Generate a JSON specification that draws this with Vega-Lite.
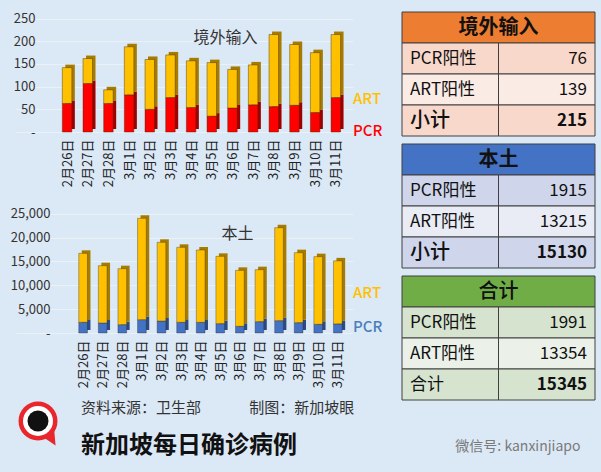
{
  "$schema": "https://vega.github.io/schema/vega-lite/v6.json",
  "background": "#dbe8f5",
  "padding": {"left": 10, "top": 11, "right": 8, "bottom": 17},
  "config": {"view": {"stroke": null}, "font": "Noto Sans CJK SC", "axis": {"labelFont": "Noto Sans CJK SC", "minExtent": 0}, "legend": {"labelFont": "Noto Sans CJK SC"}},
  "datasets": {
    "imported": [
      {"date": "2022/02/26", "type": "PCR", "n": 63}, {"date": "2022/02/26", "type": "ART", "n": 79},
      {"date": "2022/02/27", "type": "PCR", "n": 107}, {"date": "2022/02/27", "type": "ART", "n": 55},
      {"date": "2022/02/28", "type": "PCR", "n": 63}, {"date": "2022/02/28", "type": "ART", "n": 30},
      {"date": "2022/03/01", "type": "PCR", "n": 82}, {"date": "2022/03/01", "type": "ART", "n": 106},
      {"date": "2022/03/02", "type": "PCR", "n": 50}, {"date": "2022/03/02", "type": "ART", "n": 110},
      {"date": "2022/03/03", "type": "PCR", "n": 76}, {"date": "2022/03/03", "type": "ART", "n": 94},
      {"date": "2022/03/04", "type": "PCR", "n": 54}, {"date": "2022/03/04", "type": "ART", "n": 103},
      {"date": "2022/03/05", "type": "PCR", "n": 35}, {"date": "2022/03/05", "type": "ART", "n": 118},
      {"date": "2022/03/06", "type": "PCR", "n": 53}, {"date": "2022/03/06", "type": "ART", "n": 85},
      {"date": "2022/03/07", "type": "PCR", "n": 60}, {"date": "2022/03/07", "type": "ART", "n": 88},
      {"date": "2022/03/08", "type": "PCR", "n": 56}, {"date": "2022/03/08", "type": "ART", "n": 159},
      {"date": "2022/03/09", "type": "PCR", "n": 59}, {"date": "2022/03/09", "type": "ART", "n": 134},
      {"date": "2022/03/10", "type": "PCR", "n": 43}, {"date": "2022/03/10", "type": "ART", "n": 132},
      {"date": "2022/03/11", "type": "PCR", "n": 76}, {"date": "2022/03/11", "type": "ART", "n": 139}
    ],
    "local": [
      {"date": "2022/02/26", "type": "PCR", "n": 2240}, {"date": "2022/02/26", "type": "ART", "n": 14470},
      {"date": "2022/02/27", "type": "PCR", "n": 2100}, {"date": "2022/02/27", "type": "ART", "n": 12020},
      {"date": "2022/02/28", "type": "PCR", "n": 1750}, {"date": "2022/02/28", "type": "ART", "n": 11740},
      {"date": "2022/03/01", "type": "PCR", "n": 2800}, {"date": "2022/03/01", "type": "ART", "n": 21250},
      {"date": "2022/03/02", "type": "PCR", "n": 2520}, {"date": "2022/03/02", "type": "ART", "n": 16500},
      {"date": "2022/03/03", "type": "PCR", "n": 2240}, {"date": "2022/03/03", "type": "ART", "n": 15730},
      {"date": "2022/03/04", "type": "PCR", "n": 2240}, {"date": "2022/03/04", "type": "ART", "n": 15170},
      {"date": "2022/03/05", "type": "PCR", "n": 1960}, {"date": "2022/03/05", "type": "ART", "n": 14120},
      {"date": "2022/03/06", "type": "PCR", "n": 1400}, {"date": "2022/03/06", "type": "ART", "n": 11740},
      {"date": "2022/03/07", "type": "PCR", "n": 2380}, {"date": "2022/03/07", "type": "ART", "n": 10900},
      {"date": "2022/03/08", "type": "PCR", "n": 2590}, {"date": "2022/03/08", "type": "ART", "n": 19500},
      {"date": "2022/03/09", "type": "PCR", "n": 2170}, {"date": "2022/03/09", "type": "ART", "n": 14680},
      {"date": "2022/03/10", "type": "PCR", "n": 1820}, {"date": "2022/03/10", "type": "ART", "n": 14190},
      {"date": "2022/03/11", "type": "PCR", "n": 1915}, {"date": "2022/03/11", "type": "ART", "n": 13215}
    ],
    "tables": [
      {"tbl": "境外输入", "row": "标题"},
      {"tbl": "境外输入", "row": "PCR阳性", "value": 76},
      {"tbl": "境外输入", "row": "ART阳性", "value": 139},
      {"tbl": "境外输入", "row": "小计", "value": 215},
      {"tbl": "本土", "row": "标题"},
      {"tbl": "本土", "row": "PCR阳性", "value": 1915},
      {"tbl": "本土", "row": "ART阳性", "value": 13215},
      {"tbl": "本土", "row": "小计", "value": 15130},
      {"tbl": "合计", "row": "标题"},
      {"tbl": "合计", "row": "PCR阳性", "value": 1991},
      {"tbl": "合计", "row": "ART阳性", "value": 13354},
      {"tbl": "合计", "row": "合计", "value": 15345}
    ]
  },
  "title": {"text": "微信号: kanxinjiapo", "orient": "bottom", "anchor": "end", "frame": "bounds", "offset": -18, "dx": -15, "fontSize": 14, "fontWeight": "normal", "color": "#7a7a7a", "font": "Noto Sans CJK SC"},
  "spacing": 0,
  "resolve": {"scale": {"color": "independent"}, "legend": {"color": "independent"}},
  "vconcat": [
    {
      "spacing": 18,
      "resolve": {"scale": {"color": "independent"}, "legend": {"color": "independent"}},
      "hconcat": [
        {
          "spacing": 19,
          "resolve": {"scale": {"x": "independent", "y": "independent", "color": "independent"}, "legend": {"color": "independent"}},
          "vconcat": [
            {
              "width": 337, "height": 120,
              "data": {"name": "imported"},
              "title": {"text": "境外输入", "orient": "top", "anchor": "middle", "frame": "group", "dx": 41, "offset": -34, "fontSize": 16, "fontWeight": "normal", "color": "#333333", "font": "Noto Sans CJK SC"},
              "encoding": {
                "x": {"field": "date", "type": "temporal",
                  "scale": {"domain": [{"year": 2022, "month": 2, "date": 23, "hours": 18, "minutes": 29}, {"year": 2022, "month": 3, "date": 11, "hours": 14, "minutes": 10}], "nice": false},
                  "axis": {"title": null, "format": "%-m月%-d日", "values": [
                    {"year": 2022, "month": 2, "date": 26}, {"year": 2022, "month": 2, "date": 27}, {"year": 2022, "month": 2, "date": 28},
                    {"year": 2022, "month": 3, "date": 1}, {"year": 2022, "month": 3, "date": 2}, {"year": 2022, "month": 3, "date": 3},
                    {"year": 2022, "month": 3, "date": 4}, {"year": 2022, "month": 3, "date": 5}, {"year": 2022, "month": 3, "date": 6},
                    {"year": 2022, "month": 3, "date": 7}, {"year": 2022, "month": 3, "date": 8}, {"year": 2022, "month": 3, "date": 9},
                    {"year": 2022, "month": 3, "date": 10}, {"year": 2022, "month": 3, "date": 11}],
                    "labelAngle": -90, "labelFontSize": 13, "labelColor": "#222222", "ticks": false, "tickSize": 0, "domain": false, "labelPadding": 7, "grid": false, "labelOverlap": false, "labelBound": false, "labelFlush": false}},
                "y": {"field": "n", "type": "quantitative", "stack": "zero",
                  "scale": {"domain": [0, 264.7], "nice": false},
                  "axis": {"title": null, "values": [0, 50, 100, 150, 200, 250], "labelExpr": "datum.value == 0 ? '-' : datum.label", "labelPadding": -19, "labelAlign": "right", "ticks": false, "tickSize": 0, "domain": false, "grid": true, "gridColor": "#eef3f8", "gridOpacity": 0.8, "labelFontSize": 13, "labelColor": "#333333"}},
                "order": {"field": "type", "sort": "descending"}
              },
              "layer": [
                {
                  "mark": {"type": "bar", "width": 9.5, "xOffset": 3, "yOffset": -3, "y2Offset": -3},
                  "encoding": {
                    "detail": {"field": "type"},
                    "fill": {"condition": {"test": "datum.type == 'ART'", "value": "#A67C00"}, "value": "#9E0000"}
                  }
                },
                {
                  "mark": {"type": "bar", "width": 9.5, "stroke": "#3d2a00", "strokeWidth": 0.6, "strokeOpacity": 0.7},
                  "encoding": {
                    "color": {"field": "type", "type": "nominal",
                      "scale": {"domain": ["ART", "PCR"], "range": ["#FFC000", "#FF0000"]},
                      "legend": {"orient": "none", "legendX": 322, "legendY": 79, "title": null, "symbolSize": 0, "symbolStrokeWidth": 0, "symbolOpacity": 0, "labelOffset": 0, "labelFontSize": 15, "labelFontWeight": 500, "labelColor": {"expr": "datum.label == 'ART' ? '#FFC000' : '#FF0000'"}, "rowPadding": 16, "padding": 0}}
                  }
                }
              ]
            },
            {
              "width": 337, "height": 127,
              "data": {"name": "local"},
              "title": {"text": "本土", "orient": "top", "anchor": "middle", "frame": "group", "dx": 53, "offset": -36, "fontSize": 16, "fontWeight": "normal", "color": "#333333", "font": "Noto Sans CJK SC"},
              "encoding": {
                "x": {"field": "date", "type": "temporal",
                  "scale": {"domain": [{"year": 2022, "month": 2, "date": 22, "hours": 19, "minutes": 55}, {"year": 2022, "month": 3, "date": 11, "hours": 12, "minutes": 29}], "nice": false},
                  "axis": {"title": null, "format": "%-m月%-d日", "values": [
                    {"year": 2022, "month": 2, "date": 26}, {"year": 2022, "month": 2, "date": 27}, {"year": 2022, "month": 2, "date": 28},
                    {"year": 2022, "month": 3, "date": 1}, {"year": 2022, "month": 3, "date": 2}, {"year": 2022, "month": 3, "date": 3},
                    {"year": 2022, "month": 3, "date": 4}, {"year": 2022, "month": 3, "date": 5}, {"year": 2022, "month": 3, "date": 6},
                    {"year": 2022, "month": 3, "date": 7}, {"year": 2022, "month": 3, "date": 8}, {"year": 2022, "month": 3, "date": 9},
                    {"year": 2022, "month": 3, "date": 10}, {"year": 2022, "month": 3, "date": 11}],
                    "labelAngle": -90, "labelFontSize": 13, "labelColor": "#222222", "ticks": false, "tickSize": 0, "domain": false, "labelPadding": 7, "grid": false, "labelOverlap": false, "labelBound": false, "labelFlush": false}},
                "y": {"field": "n", "type": "quantitative", "stack": "zero",
                  "scale": {"domain": [0, 26636], "nice": false},
                  "axis": {"title": null, "values": [0, 5000, 10000, 15000, 20000, 25000], "labelExpr": "datum.value == 0 ? '-' : format(datum.value, ',')", "labelPadding": -34, "labelAlign": "right", "ticks": false, "tickSize": 0, "domain": false, "grid": true, "gridColor": "#eef3f8", "gridOpacity": 0.8, "labelFontSize": 13, "labelColor": "#333333"}},
                "order": {"field": "type", "sort": "descending"}
              },
              "layer": [
                {
                  "mark": {"type": "bar", "width": 8.7, "xOffset": 3, "yOffset": -3, "y2Offset": -3},
                  "encoding": {
                    "detail": {"field": "type"},
                    "fill": {"condition": {"test": "datum.type == 'ART'", "value": "#A67C00"}, "value": "#2A4B85"}
                  }
                },
                {
                  "mark": {"type": "bar", "width": 8.7, "stroke": "#2a2a2a", "strokeWidth": 0.6, "strokeOpacity": 0.6},
                  "encoding": {
                    "color": {"field": "type", "type": "nominal",
                      "scale": {"domain": ["ART", "PCR"], "range": ["#FFC000", "#4472C4"]},
                      "legend": {"orient": "none", "legendX": 322, "legendY": 79, "title": null, "symbolSize": 0, "symbolStrokeWidth": 0, "symbolOpacity": 0, "labelOffset": 0, "labelFontSize": 15, "labelFontWeight": 500, "labelColor": {"expr": "datum.label == 'ART' ? '#FFC000' : '#4A7EBB'"}, "rowPadding": 18, "padding": 0}}
                  }
                }
              ]
            }
          ]
        },
        {
          "spacing": 6,
          "vconcat": [
            {
              "width": 193, "height": 124,
              "data": {"name": "tables"},
              "transform": [{"filter": "datum.tbl == '境外输入'"}],
              "encoding": {"y": {"field": "row", "type": "nominal", "axis": null, "scale": {"domain": ["标题", "PCR阳性", "ART阳性", "小计"], "paddingInner": 0, "paddingOuter": 0}}},
              "layer": [
                {"transform": [{"filter": "datum.row == '标题'"}], "mark": {"type": "rect", "fill": "#ED7D31", "stroke": "#404040", "strokeWidth": 1}},
                {"transform": [{"filter": "datum.row != '标题'"}], "mark": {"type": "rect", "stroke": "#404040", "strokeWidth": 1},
                  "encoding": {"x": {"datum": "label", "type": "nominal", "axis": null, "scale": {"domain": ["label", "value"], "paddingInner": 0, "paddingOuter": 0}},
                    "fill": {"condition": {"test": "datum.row == 'ART阳性'", "value": "#FBEBE5"}, "value": "#F8D8CB"}}},
                {"transform": [{"filter": "datum.row != '标题'"}], "mark": {"type": "rect", "stroke": "#404040", "strokeWidth": 1},
                  "encoding": {"x": {"datum": "value", "type": "nominal", "axis": null},
                    "fill": {"condition": {"test": "datum.row == 'ART阳性'", "value": "#FBEBE5"}, "value": "#F8D8CB"}}},
                {"transform": [{"filter": "datum.row == '标题'"}], "mark": {"type": "text", "fontSize": 20, "fontWeight": "bold", "color": "#111111"}, "encoding": {"text": {"field": "tbl"}}},
                {"transform": [{"filter": "datum.row == 'PCR阳性' || datum.row == 'ART阳性'"}], "mark": {"type": "text", "align": "left", "dx": 8, "fontSize": 17, "color": "#111111"},
                  "encoding": {"x": {"datum": "label", "type": "nominal", "bandPosition": 0, "axis": null}, "text": {"field": "row"}}},
                {"transform": [{"filter": "datum.row == '小计'"}], "mark": {"type": "text", "align": "left", "dx": 8, "fontSize": 20, "fontWeight": 500, "color": "#111111"},
                  "encoding": {"x": {"datum": "label", "type": "nominal", "bandPosition": 0, "axis": null}, "text": {"field": "row"}}},
                {"transform": [{"filter": "datum.row == 'PCR阳性' || datum.row == 'ART阳性'"}], "mark": {"type": "text", "align": "right", "dx": -8, "fontSize": 17, "color": "#111111"},
                  "encoding": {"x": {"datum": "value", "type": "nominal", "bandPosition": 1, "axis": null}, "text": {"field": "value", "type": "quantitative", "format": "d"}}},
                {"transform": [{"filter": "datum.row == '小计'"}], "mark": {"type": "text", "align": "right", "dx": -8, "fontSize": 17, "fontWeight": "bold", "color": "#111111"},
                  "encoding": {"x": {"datum": "value", "type": "nominal", "bandPosition": 1, "axis": null}, "text": {"field": "value", "type": "quantitative", "format": "d"}}}
              ]
            },
            {
              "width": 193, "height": 124,
              "data": {"name": "tables"},
              "transform": [{"filter": "datum.tbl == '本土'"}],
              "encoding": {"y": {"field": "row", "type": "nominal", "axis": null, "scale": {"domain": ["标题", "PCR阳性", "ART阳性", "小计"], "paddingInner": 0, "paddingOuter": 0}}},
              "layer": [
                {"transform": [{"filter": "datum.row == '标题'"}], "mark": {"type": "rect", "fill": "#4472C4", "stroke": "#404040", "strokeWidth": 1}},
                {"transform": [{"filter": "datum.row != '标题'"}], "mark": {"type": "rect", "stroke": "#404040", "strokeWidth": 1},
                  "encoding": {"x": {"datum": "label", "type": "nominal", "axis": null, "scale": {"domain": ["label", "value"], "paddingInner": 0, "paddingOuter": 0}},
                    "fill": {"condition": {"test": "datum.row == 'ART阳性'", "value": "#E9EBF5"}, "value": "#CFD5EA"}}},
                {"transform": [{"filter": "datum.row != '标题'"}], "mark": {"type": "rect", "stroke": "#404040", "strokeWidth": 1},
                  "encoding": {"x": {"datum": "value", "type": "nominal", "axis": null},
                    "fill": {"condition": {"test": "datum.row == 'ART阳性'", "value": "#E9EBF5"}, "value": "#CFD5EA"}}},
                {"transform": [{"filter": "datum.row == '标题'"}], "mark": {"type": "text", "fontSize": 20, "fontWeight": "bold", "color": "#111111"}, "encoding": {"text": {"field": "tbl"}}},
                {"transform": [{"filter": "datum.row == 'PCR阳性' || datum.row == 'ART阳性'"}], "mark": {"type": "text", "align": "left", "dx": 8, "fontSize": 17, "color": "#111111"},
                  "encoding": {"x": {"datum": "label", "type": "nominal", "bandPosition": 0, "axis": null}, "text": {"field": "row"}}},
                {"transform": [{"filter": "datum.row == '小计'"}], "mark": {"type": "text", "align": "left", "dx": 8, "fontSize": 20, "fontWeight": 500, "color": "#111111"},
                  "encoding": {"x": {"datum": "label", "type": "nominal", "bandPosition": 0, "axis": null}, "text": {"field": "row"}}},
                {"transform": [{"filter": "datum.row == 'PCR阳性' || datum.row == 'ART阳性'"}], "mark": {"type": "text", "align": "right", "dx": -8, "fontSize": 17, "color": "#111111"},
                  "encoding": {"x": {"datum": "value", "type": "nominal", "bandPosition": 1, "axis": null}, "text": {"field": "value", "type": "quantitative", "format": "d"}}},
                {"transform": [{"filter": "datum.row == '小计'"}], "mark": {"type": "text", "align": "right", "dx": -8, "fontSize": 17, "fontWeight": "bold", "color": "#111111"},
                  "encoding": {"x": {"datum": "value", "type": "nominal", "bandPosition": 1, "axis": null}, "text": {"field": "value", "type": "quantitative", "format": "d"}}}
              ]
            },
            {
              "width": 193, "height": 124,
              "data": {"name": "tables"},
              "transform": [{"filter": "datum.tbl == '合计'"}],
              "encoding": {"y": {"field": "row", "type": "nominal", "axis": null, "scale": {"domain": ["标题", "PCR阳性", "ART阳性", "合计"], "paddingInner": 0, "paddingOuter": 0}}},
              "layer": [
                {"transform": [{"filter": "datum.row == '标题'"}], "mark": {"type": "rect", "fill": "#70AD47", "stroke": "#404040", "strokeWidth": 1}},
                {"transform": [{"filter": "datum.row != '标题'"}], "mark": {"type": "rect", "stroke": "#404040", "strokeWidth": 1},
                  "encoding": {"x": {"datum": "label", "type": "nominal", "axis": null, "scale": {"domain": ["label", "value"], "paddingInner": 0, "paddingOuter": 0}},
                    "fill": {"condition": {"test": "datum.row == 'ART阳性'", "value": "#EBF1E9"}, "value": "#D5E3CF"}}},
                {"transform": [{"filter": "datum.row != '标题'"}], "mark": {"type": "rect", "stroke": "#404040", "strokeWidth": 1},
                  "encoding": {"x": {"datum": "value", "type": "nominal", "axis": null},
                    "fill": {"condition": {"test": "datum.row == 'ART阳性'", "value": "#EBF1E9"}, "value": "#D5E3CF"}}},
                {"transform": [{"filter": "datum.row == '标题'"}], "mark": {"type": "text", "fontSize": 20, "fontWeight": 500, "color": "#111111"}, "encoding": {"text": {"field": "tbl"}}},
                {"transform": [{"filter": "datum.row != '标题'"}], "mark": {"type": "text", "align": "left", "dx": 8, "fontSize": 17, "color": "#111111"},
                  "encoding": {"x": {"datum": "label", "type": "nominal", "bandPosition": 0, "axis": null}, "text": {"field": "row"}}},
                {"transform": [{"filter": "datum.row == 'PCR阳性' || datum.row == 'ART阳性'"}], "mark": {"type": "text", "align": "right", "dx": -8, "fontSize": 17, "color": "#111111"},
                  "encoding": {"x": {"datum": "value", "type": "nominal", "bandPosition": 1, "axis": null}, "text": {"field": "value", "type": "quantitative", "format": "d"}}},
                {"transform": [{"filter": "datum.row == '合计'"}], "mark": {"type": "text", "align": "right", "dx": -8, "fontSize": 17, "fontWeight": "bold", "color": "#111111"},
                  "encoding": {"x": {"datum": "value", "type": "nominal", "bandPosition": 1, "axis": null}, "text": {"field": "value", "type": "quantitative", "format": "d"}}}
              ]
            }
          ]
        }
      ]
    },
    {
      "spacing": 20,
      "hconcat": [
        {
          "width": 44, "height": 34,
          "data": {"values": [{"brand": "新加坡眼"}]},
          "layer": [
            {"mark": {"type": "point", "filled": true, "opacity": 1, "shape": "M 0.25 0.8 L 0.88 1.22 L 0.8 0.35 Z", "size": 1600, "color": "#E8262C"}, "encoding": {}},
            {"mark": {"type": "point", "filled": true, "opacity": 1, "shape": "circle", "size": 1521, "color": "#E8262C"}, "encoding": {}},
            {"mark": {"type": "point", "filled": true, "opacity": 1, "shape": "circle", "size": 900, "color": "#ffffff"}, "encoding": {}},
            {"mark": {"type": "point", "filled": true, "opacity": 1, "shape": "circle", "size": 441, "color": "#111111"}, "encoding": {}}
          ]
        },
        {
          "width": 1, "height": 1,
          "data": {"values": [{"note": "footer"}]},
          "mark": {"type": "rule", "opacity": 0},
          "encoding": {},
          "title": {"text": "资料来源：卫生部　　　 制图：新加坡眼", "subtitle": "新加坡每日确诊病例", "orient": "bottom", "anchor": "start", "frame": "group", "offset": -4, "fontSize": 15, "fontWeight": "normal", "color": "#333333", "font": "Noto Sans CJK SC", "subtitleFont": "Noto Sans CJK SC", "subtitleFontSize": 24, "subtitleFontWeight": "bold", "subtitleColor": "#111111", "subtitlePadding": 18}
        }
      ]
    }
  ]
}
